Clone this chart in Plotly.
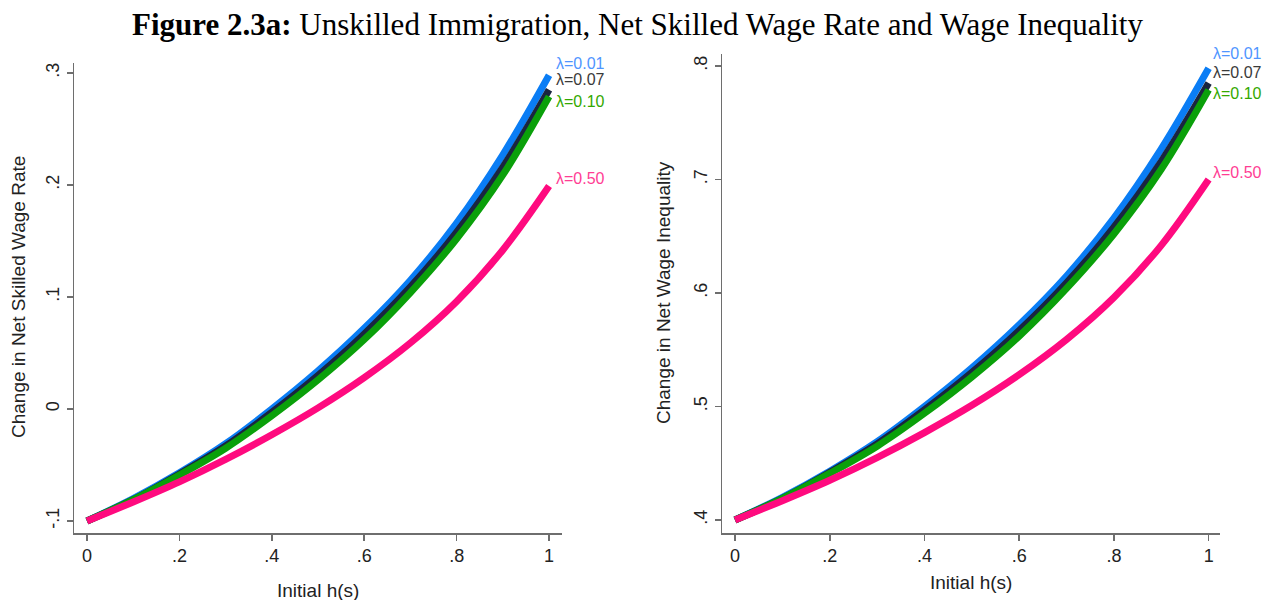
import plotly.graph_objects as go
from plotly.subplots import make_subplots

x_vals = [0.0, 0.1, 0.2, 0.3, 0.4, 0.5, 0.6, 0.7, 0.8, 0.9, 1.0]

series_names = ["λ=0.01", "λ=0.07", "λ=0.10", "λ=0.50"]

# Left panel: Change in Net Skilled Wage Rate
wage_l001 = [-0.100, -0.080, -0.057, -0.031, 0.000, 0.034, 0.072, 0.115, 0.166, 0.227, 0.298]
wage_l007 = [-0.100, -0.081, -0.058, -0.033, -0.003, 0.030, 0.067, 0.109, 0.158, 0.216, 0.285]
wage_l010 = [-0.100, -0.081, -0.059, -0.035, -0.006, 0.026, 0.062, 0.104, 0.152, 0.209, 0.279]
wage_l050 = [-0.100, -0.083, -0.065, -0.045, -0.023, 0.001, 0.028, 0.059, 0.096, 0.142, 0.199]

# Right panel: Change in Net Wage Inequality
ineq_l001 = [0.400, 0.420, 0.443, 0.469, 0.500, 0.534, 0.572, 0.615, 0.666, 0.727, 0.798]
ineq_l007 = [0.400, 0.419, 0.442, 0.467, 0.497, 0.530, 0.567, 0.609, 0.658, 0.716, 0.785]
ineq_l010 = [0.400, 0.419, 0.441, 0.465, 0.494, 0.526, 0.562, 0.604, 0.652, 0.709, 0.779]
ineq_l050 = [0.400, 0.417, 0.435, 0.455, 0.477, 0.501, 0.528, 0.559, 0.596, 0.642, 0.700]

x_tickvals = [0, 0.2, 0.4, 0.6, 0.8, 1]
x_ticktext = ["0", ".2", ".4", ".6", ".8", "1"]
yl_tickvals = [-0.1, 0, 0.1, 0.2, 0.3]
yl_ticktext = ["-.1", "0", ".1", ".2", ".3"]
yr_tickvals = [0.4, 0.5, 0.6, 0.7, 0.8]
yr_ticktext = [".4", ".5", ".6", ".7", ".8"]

line_colors = ["#0a7df5", "#1a2540", "#0aa00a", "#ff0a7f"]
label_colors = ["#4f95ff", "#3a3a3a", "#33a800", "#ff3d94"]

fig = make_subplots(rows=1, cols=2)

left_series = [wage_l001, wage_l007, wage_l010, wage_l050]
right_series = [ineq_l001, ineq_l007, ineq_l010, ineq_l050]

for col, data in ((1, left_series), (2, right_series)):
    for name, ys, c in zip(series_names, data, line_colors):
        fig.add_trace(go.Scatter(x=x_vals, y=ys, mode="lines", name=name,
                                 line=dict(color=c, width=7, shape="spline"),
                                 showlegend=False, hoverinfo="skip"), row=1, col=col)

# end labels (anchored at each series' last value, shifted in pixels)
left_label_shift = [12, 10, -5, 8]
right_label_shift = [15, 11, -4, 7]
for name, ys, sh, lc in zip(series_names, left_series, left_label_shift, label_colors):
    fig.add_annotation(x=1.0, y=ys[-1], xref="x", yref="y", text=name, showarrow=False,
                       xanchor="left", yanchor="middle", xshift=5, yshift=sh,
                       font=dict(family="Liberation Sans", size=16, color=lc))
for name, ys, sh, lc in zip(series_names, right_series, right_label_shift, label_colors):
    fig.add_annotation(x=1.0, y=ys[-1], xref="x2", yref="y2", text=name, showarrow=False,
                       xanchor="left", yanchor="middle", xshift=2, yshift=sh,
                       font=dict(family="Liberation Sans", size=16, color=lc))

W, H = 1273, 600
axis_common = dict(showline=True, linecolor="#6e6e6e", linewidth=1.5, ticks="outside",
                   ticklen=6, tickwidth=1.5, tickcolor="#6e6e6e", showgrid=False,
                   zeroline=False, tickfont=dict(family="Liberation Sans", size=18, color="#222"))

fig.update_xaxes(**axis_common)
fig.update_yaxes(**axis_common)

fig.update_layout(
    xaxis=dict(domain=[74 / W, 562 / W], range=[-0.0281, 1.028],
               tickvals=x_tickvals, ticktext=x_ticktext),
    yaxis=dict(domain=[1 - 533 / H, 1 - 63 / H], range=[-0.1107, 0.3089],
               tickvals=yl_tickvals, ticktext=yl_ticktext, tickangle=-90),
    xaxis2=dict(domain=[722 / W, 1220 / W], range=[-0.0275, 1.024],
                tickvals=x_tickvals, ticktext=x_ticktext),
    yaxis2=dict(domain=[1 - 533 / H, 1 - 54 / H], range=[0.3885, 0.8106],
                tickvals=yr_tickvals, ticktext=yr_ticktext, tickangle=-90),
    width=W, height=H,
    margin=dict(l=0, r=0, t=0, b=0),
    plot_bgcolor="white", paper_bgcolor="white",
    hovermode=False,
)

# title
fig.add_annotation(x=637 / W, y=1 - 24 / H, xref="paper", yref="paper", showarrow=False,
                   text="<b>Figure 2.3a:</b> Unskilled Immigration, Net Skilled Wage Rate and Wage Inequality",
                   xanchor="center", yanchor="middle",
                   font=dict(family="Liberation Serif", size=31, color="black"))

# axis titles
title_font = dict(family="Liberation Sans", size=19, color="#222")
fig.add_annotation(x=18 / W, y=1 - 297 / H, xref="paper", yref="paper", showarrow=False,
                   text="Change in Net Skilled Wage Rate", textangle=-90,
                   xanchor="center", yanchor="middle", font=title_font)
fig.add_annotation(x=663 / W, y=1 - 293 / H, xref="paper", yref="paper", showarrow=False,
                   text="Change in Net Wage Inequality", textangle=-90,
                   xanchor="center", yanchor="middle", font=title_font)
fig.add_annotation(x=318 / W, y=1 - 590 / H, xref="paper", yref="paper", showarrow=False,
                   text="Initial h(s)", xanchor="center", yanchor="middle", font=title_font)
fig.add_annotation(x=971 / W, y=1 - 582 / H, xref="paper", yref="paper", showarrow=False,
                   text="Initial h(s)", xanchor="center", yanchor="middle", font=title_font)

fig.write_html("out.html", config={"displayModeBar": False, "staticPlot": True},
               post_script="document.body.style.margin='0';document.body.style.padding='0';")
